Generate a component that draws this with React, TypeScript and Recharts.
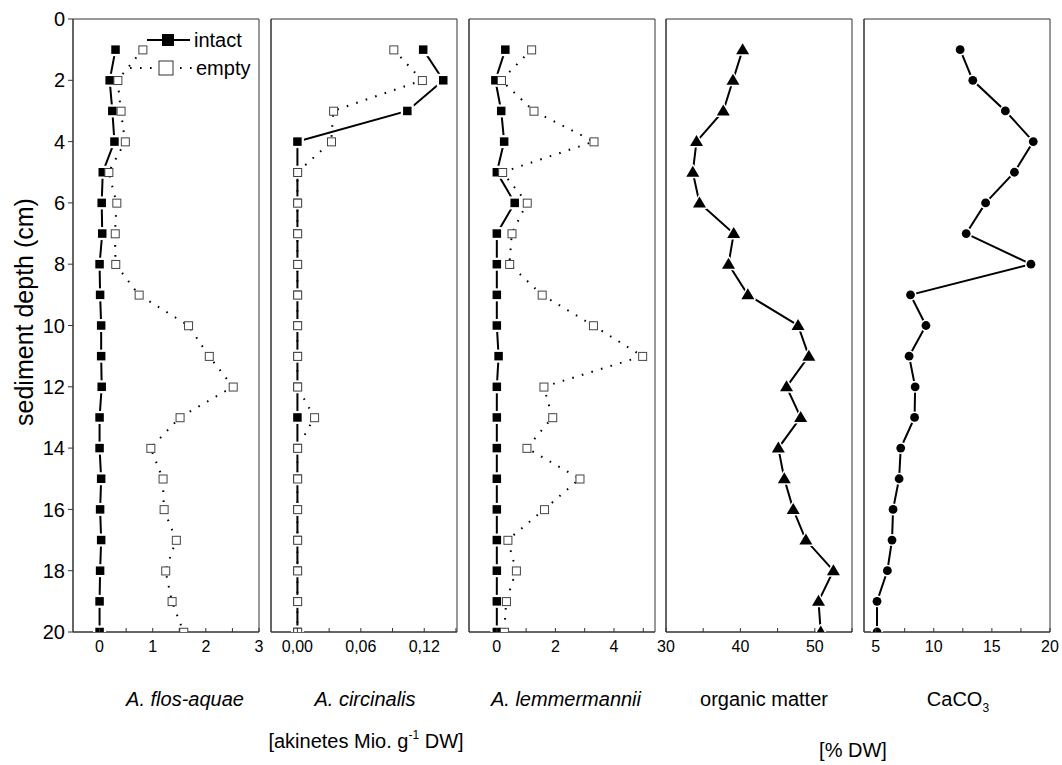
import React from 'react';
import { LineChart, Line, XAxis, YAxis, ReferenceArea } from 'recharts';

// ---------- data ----------
const depths = [1, 2, 3, 4, 5, 6, 7, 8, 9, 10, 11, 12, 13, 14, 15, 16, 17, 18, 19, 20];
const flosIntact = [0.30, 0.19, 0.24, 0.28, 0.06, 0.04, 0.05, 0.0, 0.01, 0.03, 0.03, 0.04, 0.0, 0.0, 0.03, 0.01, 0.03, 0.01, 0.0, 0.0];
const flosEmpty = [0.81, 0.34, 0.40, 0.48, 0.17, 0.32, 0.29, 0.30, 0.74, 1.67, 2.06, 2.51, 1.51, 0.96, 1.19, 1.21, 1.44, 1.24, 1.36, 1.58];
const circIntact = [0.119, 0.138, 0.104, 0, 0, 0, 0, 0, 0, 0, 0, 0, 0, 0, 0, 0, 0, 0, 0, 0];
const circEmpty = [0.091, 0.118, 0.034, 0.032, 0, 0, 0, 0, 0, 0, 0, 0, 0.016, 0, 0, 0, 0, 0, 0, 0];
const lemIntact = [0.29, -0.05, 0.15, 0.25, 0, 0.61, 0, 0, 0, 0, 0.06, 0, 0, 0, 0, 0, 0, 0, 0, 0];
const lemEmpty = [1.18, 0.15, 1.26, 3.31, 0.19, 1.03, 0.51, 0.43, 1.54, 3.29, 4.97, 1.60, 1.90, 1.02, 2.83, 1.62, 0.37, 0.66, 0.32, 0.25];
const organicMatter = [40.3, 39.0, 37.7, 34.1, 33.6, 34.5, 39.1, 38.4, 41.0, 47.75, 49.2, 46.2, 48.1, 45.1, 45.9, 47.1, 48.8, 52.5, 50.5, 50.8];
const caco3 = [12.27, 13.36, 16.16, 18.56, 16.94, 14.46, 12.79, 18.36, 8.0, 9.33, 7.88, 8.40, 8.35, 7.16, 7.02, 6.50, 6.41, 6.01, 5.12, 5.12];

const depthTicks = [0, 2, 4, 6, 8, 10, 12, 14, 16, 18, 20];

const flosTicks = [0, 0.5, 1, 1.5, 2, 2.5, 3];
const flosLabels = [0, 1, 2, 3];
const circTicks = [0, 0.03, 0.06, 0.09, 0.12, 0.15];
const circLabels = [0, 0.06, 0.12];
const lemTicks = [0, 1, 2, 3, 4, 5];
const lemLabels = [0, 2, 4];
const orgTicks = [30, 35, 40, 45, 50, 55];
const orgLabels = [30, 40, 50];
const cacoTicks = [5, 7.5, 10, 12.5, 15, 17.5, 20];
const cacoLabels = [5, 10, 15, 20];

const rows = depths.map((d, i) => ({
  depth: d,
  flosIntact: flosIntact[i],
  flosEmpty: flosEmpty[i],
  circIntact: circIntact[i],
  circEmpty: circEmpty[i],
  lemIntact: lemIntact[i],
  lemEmpty: lemEmpty[i],
  organic: organicMatter[i],
  caco3: caco3[i],
}));

// ---------- layout ----------
const FONT = '"Liberation Sans", Arial, sans-serif';
const PW = 186;
const TOP = 19;
const XAX_H = 30;
const BOTTOM = 103;
const RIGHT = 12;
const FRAME = '#333';

// ---------- markers ----------
const FilledSquare = (p: any) => {
  if (p.cx == null || p.cy == null) return <g key={`fs-${p.index}`} />;
  return (
    <g key={`fs-${p.index}`}>
      <rect x={p.cx - 6.5} y={p.cy - 6.5} width={13} height={13} fill="#fff" />
      <rect x={p.cx - 4.25} y={p.cy - 4.25} width={8.5} height={8.5} fill="#000" />
    </g>
  );
};
const OpenSquare = (p: any) => {
  if (p.cx == null || p.cy == null) return <g key={`os-${p.index}`} />;
  return (
    <rect key={`os-${p.index}`} x={p.cx - 3.75} y={p.cy - 3.75} width={8} height={8} fill="#fff" stroke="#444" strokeWidth={1} />
  );
};
const Triangle = (p: any) => {
  if (p.cx == null || p.cy == null) return <g key={`tr-${p.index}`} />;
  const { cx, cy } = p;
  const pts = `${cx},${cy - 6.5} ${cx + 6.5},${cy + 4.5} ${cx - 6.5},${cy + 4.5}`;
  return (
    <g key={`tr-${p.index}`}>
      <polygon points={pts} fill="#000" stroke="#fff" strokeWidth={3} strokeLinejoin="round" />
      <polygon points={pts} fill="#000" />
    </g>
  );
};
const Circle = (p: any) => {
  if (p.cx == null || p.cy == null) return <g key={`ci-${p.index}`} />;
  return (
    <g key={`ci-${p.index}`}>
      <circle cx={p.cx} cy={p.cy} r={6} fill="#fff" />
      <circle cx={p.cx} cy={p.cy} r={4.4} fill="#000" />
    </g>
  );
};

const makeXTick = (labels: number[], fmt: (v: number) => string) => (props: any) => {
  const { x, y, payload, index } = props;
  const v = payload.value;
  const show = labels.some((l) => Math.abs(l - v) < 1e-9);
  return (
    <g key={`xt-${index}`}>
      <line x1={x} x2={x} y1={y} y2={y - 4} stroke={FRAME} strokeWidth={1} />
      {show && (
        <text x={x} y={y + 20} textAnchor="middle" fontSize={16} fill="#000" fontFamily={FONT}>
          {fmt(v)}
        </text>
      )}
    </g>
  );
};

type SeriesDef = { key: string; kind: 'intact' | 'empty' | 'tri' | 'circle' };

function Panel(props: {
  plotLeft: number;
  showY: boolean;
  domain: [number, number];
  ticks: number[];
  labels: number[];
  fmt: (v: number) => string;
  series: SeriesDef[];
}) {
  const { plotLeft, showY, domain, ticks, labels, fmt, series } = props;
  const yW = showY ? 73 : 10;
  return (
    <div style={{ position: 'absolute', left: plotLeft - yW, top: 0 }}>
      <LineChart
        layout="vertical"
        width={yW + PW + RIGHT}
        height={765}
        data={rows}
        margin={{ top: TOP, right: RIGHT, bottom: BOTTOM, left: 0 }}
      >
        <XAxis
          type="number"
          domain={domain}
          allowDataOverflow
          ticks={ticks}
          interval={0}
          height={XAX_H}
          tickSize={0}
          tickMargin={0}
          tickLine={false}
          axisLine={{ stroke: FRAME }}
          tick={makeXTick(labels, fmt)}
        />
        <YAxis
          type="number"
          dataKey="depth"
          domain={[0, 20]}
          allowDataOverflow
          ticks={depthTicks}
          interval={0}
          width={yW}
          tickSize={5}
          tickMargin={3}
          tickLine={{ stroke: FRAME }}
          axisLine={{ stroke: FRAME }}
          tick={showY ? { fontSize: 20, fill: '#000', fontFamily: FONT } : false}
        />
        {series.map((s) => {
          if (s.kind === 'intact')
            return <Line key={s.key} dataKey={s.key} stroke="#000" strokeWidth={2} dot={FilledSquare} isAnimationActive={false} />;
          if (s.kind === 'empty')
            return (
              <Line key={s.key} dataKey={s.key} stroke="#000" strokeWidth={2} strokeDasharray="1.6 8.4" dot={OpenSquare} isAnimationActive={false} />
            );
          if (s.kind === 'tri')
            return <Line key={s.key} dataKey={s.key} stroke="#000" strokeWidth={2} dot={Triangle} isAnimationActive={false} />;
          return <Line key={s.key} dataKey={s.key} stroke="#000" strokeWidth={2} dot={Circle} isAnimationActive={false} />;
        })}
        <ReferenceArea x1={domain[0]} x2={domain[1]} y1={0} y2={20} fill="none" stroke={FRAME} strokeWidth={1} ifOverflow="visible" />
      </LineChart>
    </div>
  );
}

const intFmt = (v: number) => String(v);
const commaFmt = (v: number) => v.toFixed(2).replace('.', ',');

export default function App() {
  return (
    <div style={{ position: 'absolute', left: 0, top: 0, width: 1062, height: 765, background: '#fff', fontFamily: FONT, overflow: 'hidden' }}>
      <Panel plotLeft={73} showY domain={[-0.5, 3]} ticks={flosTicks} labels={flosLabels} fmt={intFmt}
        series={[{ key: 'flosIntact', kind: 'intact' }, { key: 'flosEmpty', kind: 'empty' }]} />
      <Panel plotLeft={271} showY={false} domain={[-0.025, 0.151]} ticks={circTicks} labels={circLabels} fmt={commaFmt}
        series={[{ key: 'circIntact', kind: 'intact' }, { key: 'circEmpty', kind: 'empty' }]} />
      <Panel plotLeft={469} showY={false} domain={[-0.95, 5.4]} ticks={lemTicks} labels={lemLabels} fmt={intFmt}
        series={[{ key: 'lemIntact', kind: 'intact' }, { key: 'lemEmpty', kind: 'empty' }]} />
      <Panel plotLeft={666} showY={false} domain={[30, 55]} ticks={orgTicks} labels={orgLabels} fmt={intFmt}
        series={[{ key: 'organic', kind: 'tri' }]} />
      <Panel plotLeft={864} showY={false} domain={[4, 20]} ticks={cacoTicks} labels={cacoLabels} fmt={intFmt}
        series={[{ key: 'caco3', kind: 'circle' }]} />

      <svg width={1062} height={765} style={{ position: 'absolute', left: 0, top: 0, pointerEvents: 'none' }} fontFamily={FONT}>
        {/* y-axis title */}
        <text x={33} y={312} transform="rotate(-90 33 312)" textAnchor="middle" fontSize={25} fill="#000">
          sediment depth (cm)
        </text>
        {/* legend */}
        <line x1={147} x2={190} y1={40} y2={40} stroke="#000" strokeWidth={2} />
        <rect x={162} y={34} width={12} height={12} fill="#000" />
        <text x={194} y={47} fontSize={20} fill="#000">intact</text>
        <line x1={130} x2={196} y1={68} y2={68} stroke="#000" strokeWidth={2} strokeDasharray="1.6 8.4" />
        <rect x={159} y={61} width={14} height={14} fill="#fff" stroke="#333" strokeWidth={1} />
        <text x={196} y={75} fontSize={20} fill="#000">empty</text>
        {/* panel titles */}
        <text x={185} y={706} textAnchor="middle" fontSize={20} fontStyle="italic" fill="#000">A. flos-aquae</text>
        <text x={365} y={706} textAnchor="middle" fontSize={20} fontStyle="italic" fill="#000">A. circinalis</text>
        <text x={566} y={706} textAnchor="middle" fontSize={20} fontStyle="italic" fill="#000">A. lemmermannii</text>
        <text x={764} y={706} textAnchor="middle" fontSize={20} fill="#000">organic matter</text>
        <text x={958} y={706} textAnchor="middle" fontSize={20} fill="#000">
          CaCO<tspan dy={6} fontSize={12}>3</tspan>
        </text>
        <text x={366} y={748} textAnchor="middle" fontSize={20} fill="#000">
          [akinetes Mio. g<tspan dy={-9} fontSize={12}>-1</tspan>
          <tspan dy={9}> DW]</tspan>
        </text>
        <text x={853} y={757} textAnchor="middle" fontSize={20} fill="#000">[% DW]</text>
      </svg>
    </div>
  );
}
